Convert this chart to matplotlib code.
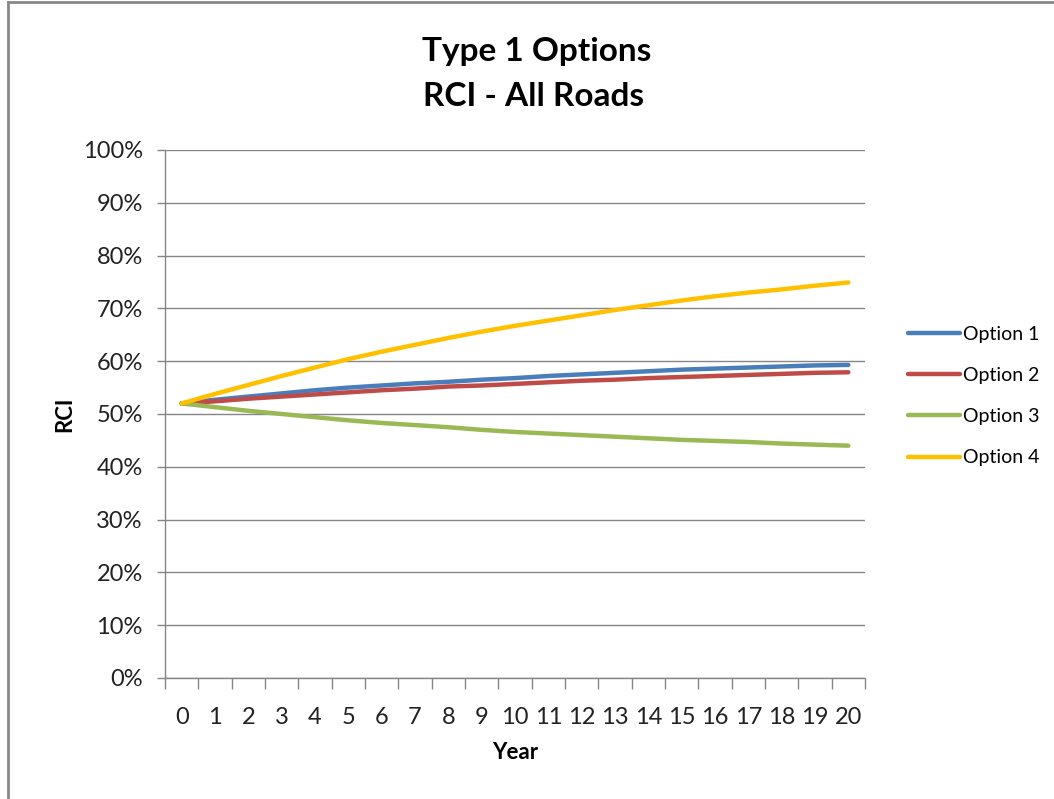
import matplotlib
matplotlib.use("Agg")
import matplotlib.pyplot as plt
from matplotlib.lines import Line2D
from matplotlib.ticker import FixedLocator, FuncFormatter

# ── Data: RCI (%) per year for each option ───────────────────────────────────
years = list(range(21))
option_1 = [52.0, 52.7, 53.3, 53.9, 54.5, 55.0, 55.4, 55.8, 56.1, 56.5, 56.8,
            57.2, 57.5, 57.8, 58.1, 58.4, 58.6, 58.8, 59.0, 59.2, 59.3]
option_2 = [52.0, 52.4, 52.9, 53.3, 53.7, 54.1, 54.5, 54.8, 55.2, 55.4, 55.7,
            56.0, 56.3, 56.5, 56.8, 57.0, 57.2, 57.4, 57.6, 57.8, 57.9]
option_3 = [52.0, 51.3, 50.6, 50.0, 49.4, 48.8, 48.3, 47.9, 47.5, 47.0, 46.6,
            46.3, 46.0, 45.7, 45.4, 45.1, 44.9, 44.7, 44.4, 44.2, 44.0]
option_4 = [52.0, 53.8, 55.5, 57.2, 58.8, 60.4, 61.8, 63.1, 64.4, 65.6, 66.7,
            67.7, 68.7, 69.7, 70.6, 71.5, 72.3, 73.0, 73.6, 74.3, 74.9]
labels = ['Option 1', 'Option 2', 'Option 3', 'Option 4']
colors = ['#4A7EBB', '#BE4B48', '#98B954', '#FFC000']

plt.rcParams['font.family'] = ['Lato', 'DejaVu Sans']

W, H = 1054, 799
fig = plt.figure(figsize=(W / 100, H / 100), dpi=100)
ax = fig.add_axes([165 / W, (H - 678) / H, 700 / W, 528 / H])

for vals, lab, col in zip([option_1, option_2, option_3, option_4], labels, colors):
    ax.plot(years, vals, color=col, linewidth=3.2, label=lab,
            solid_capstyle='round', solid_joinstyle='round')

ax.set_xlim(-0.5, 20.5)
ax.set_ylim(0, 100)

# Category axis: labels centred between the tick marks
ax.set_xticks(years)
ax.set_xticklabels([str(y) for y in years])
ax.tick_params(axis='x', which='major', length=0, pad=21, labelsize=17, colors='#222222')
ax.xaxis.set_minor_locator(FixedLocator([y - 0.5 for y in years] + [20.5]))
ax.tick_params(axis='x', which='minor', length=8, color='#868686', width=1)

ax.set_yticks(range(0, 101, 10))
ax.yaxis.set_major_formatter(FuncFormatter(lambda v, _: f'{v:.0f}%'))
ax.tick_params(axis='y', length=6, color='#868686', width=1, pad=10,
               labelsize=17, labelcolor='#222222')

ax.grid(axis='y', color='#868686', linewidth=1)
ax.set_axisbelow(True)
for side in ['top', 'right']:
    ax.spines[side].set_visible(False)
for side in ['left', 'bottom']:
    ax.spines[side].set_color('#868686')
    ax.spines[side].set_linewidth(1)

ax.set_xlabel('Year', fontsize=16, fontweight='bold', labelpad=10)
ax.set_ylabel('RCI', fontsize=16, fontweight='bold', labelpad=5)

fig.text(537 / W, 1 - 51 / H, 'Type 1 Options', ha='center', va='center',
         fontsize=24, fontweight='bold')
fig.text(534 / W, 1 - 97 / H, 'RCI - All Roads', ha='center', va='center',
         fontsize=24, fontweight='bold')

ax.legend(loc='center left', bbox_to_anchor=(890 / W, 1 - 396 / H),
          bbox_transform=fig.transFigure, frameon=False, fontsize=14,
          handlelength=2.7, handletextpad=0.15, labelspacing=1.25)

# Chart frame
fig.add_artist(Line2D([8 / W, 8 / W], [0, 1 - 2 / H], color='#888888', linewidth=2))
fig.add_artist(Line2D([8 / W, 1], [1 - 2 / H, 1 - 2 / H], color='#888888', linewidth=2))

fig.savefig('out.png', dpi=100)
